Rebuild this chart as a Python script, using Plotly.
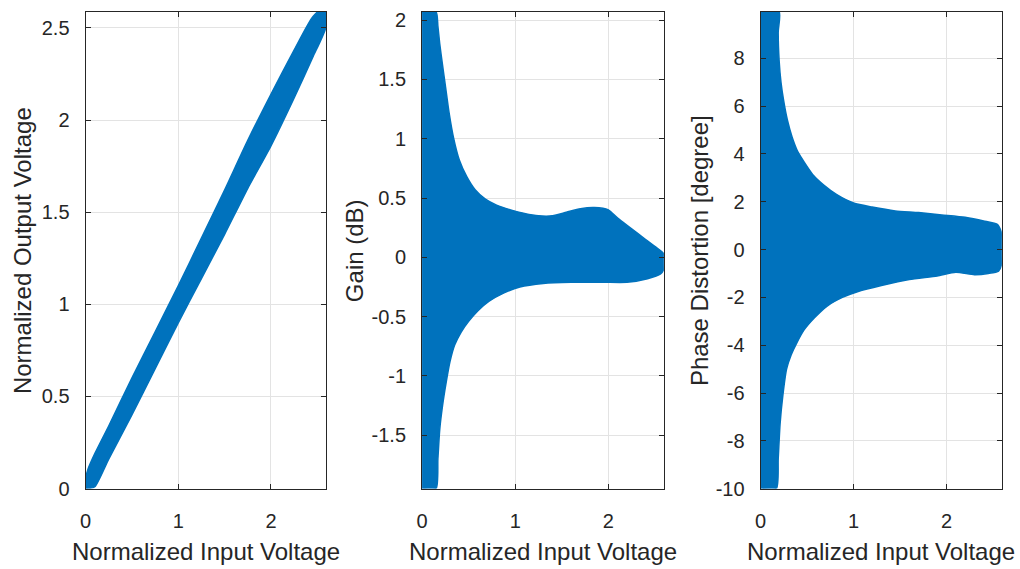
import plotly.graph_objects as go

# ---------------- data ----------------
# Panel 1: Normalized output vs input voltage (band of scatter points)
vin_x = [0.00, 0.03, 0.10, 0.25, 0.50, 0.75, 1.00, 1.25, 1.50, 1.75, 2.00, 2.25, 2.45, 2.59]
vout_upper = [0.06, 0.11, 0.19, 0.34, 0.60, 0.85, 1.10, 1.36, 1.62, 1.89, 2.14, 2.38, 2.56, 2.62]
vout_lower = [0.00, 0.00, 0.01, 0.16, 0.40, 0.65, 0.90, 1.14, 1.38, 1.63, 1.86, 2.12, 2.34, 2.50]

# Panel 2: Gain (dB) scatter cloud envelope
gain_up_x = [0.00, 0.15, 0.17, 0.19, 0.22, 0.25, 0.29, 0.34, 0.40, 0.48, 0.57, 0.68, 0.80, 0.95,
             1.10, 1.25, 1.40, 1.55, 1.70, 1.85, 2.00, 2.10, 2.25, 2.40, 2.52, 2.595]
gain_up_y = [2.07, 2.07, 1.95, 1.80, 1.62, 1.45, 1.22, 1.00, 0.82, 0.68, 0.57, 0.49, 0.44, 0.40,
             0.37, 0.35, 0.35, 0.38, 0.41, 0.42, 0.40, 0.33, 0.24, 0.15, 0.08, 0.03]
gain_lo_x = [0.00, 0.15, 0.17, 0.19, 0.22, 0.26, 0.30, 0.35, 0.42, 0.50, 0.60, 0.72, 0.88, 1.05,
             1.30, 1.60, 1.95, 2.20, 2.42, 2.56, 2.595]
gain_lo_y = [-1.95, -1.95, -1.70, -1.45, -1.25, -1.05, -0.88, -0.74, -0.63, -0.54, -0.45, -0.37, -0.30, -0.25,
             -0.22, -0.21, -0.21, -0.21, -0.18, -0.14, -0.10]

# Panel 3: Phase distortion (degree) scatter cloud envelope
ph_up_x = [0.00, 0.20, 0.19, 0.20, 0.22, 0.25, 0.29, 0.34, 0.40, 0.48, 0.57, 0.68, 0.82, 1.00,
           1.20, 1.45, 1.70, 1.95, 2.20, 2.40, 2.55, 2.595]
ph_up_y = [9.95, 9.95, 9.10, 7.90, 7.00, 6.20, 5.40, 4.70, 4.10, 3.60, 3.10, 2.70, 2.30, 1.95,
           1.78, 1.62, 1.55, 1.45, 1.35, 1.20, 1.05, 0.65]
ph_lo_x = [0.00, 0.17, 0.19, 0.21, 0.24, 0.28, 0.33, 0.39, 0.47, 0.58, 0.72, 0.88, 1.05, 1.30,
           1.60, 1.90, 2.10, 2.30, 2.45, 2.56, 2.595]
ph_lo_y = [-10.0, -10.0, -8.75, -7.30, -6.10, -5.00, -4.40, -3.90, -3.35, -2.85, -2.35, -2.00, -1.75, -1.50,
           -1.25, -1.10, -0.95, -1.05, -1.00, -0.90, -0.57]

# Tick labels
x_ticks = [0, 1, 2]
y1_ticks = [0, 0.5, 1, 1.5, 2, 2.5]
y1_text = ["0", "0.5", "1", "1.5", "2", "2.5"]
y2_ticks = [-1.5, -1, -0.5, 0, 0.5, 1, 1.5, 2]
y2_text = ["-1.5", "-1", "-0.5", "0", "0.5", "1", "1.5", "2"]
y3_ticks = [-10, -8, -6, -4, -2, 0, 2, 4, 6, 8]
y3_text = ["-10", "-8", "-6", "-4", "-2", "0", "2", "4", "6", "8"]

x_title = "Normalized Input Voltage"
y_titles = ["Normalized Output Voltage", "Gain (dB)", "Phase Distortion [degree]"]

# ---------------- figure ----------------
BLUE = "#0072BD"
AX = "#262626"
FONT = "Liberation Sans, Arial, Helvetica, sans-serif"
W, H = 1020, 569

fig = go.Figure()


def band(xu, yu, xl, yl, xa, ya):
    xs = list(xu) + list(reversed(xl))
    ys = list(yu) + list(reversed(yl))
    fig.add_trace(go.Scatter(
        x=xs, y=ys, mode="lines", fill="toself", fillcolor=BLUE,
        line=dict(color=BLUE, width=1.5, shape="spline", smoothing=0.6),
        xaxis=xa, yaxis=ya, showlegend=False, hoverinfo="skip"))


band(vin_x, vout_upper, vin_x, vout_lower, "x", "y")
band(gain_up_x, gain_up_y, gain_lo_x, gain_lo_y, "x2", "y2")
band(ph_up_x, ph_up_y, ph_lo_x, ph_lo_y, "x3", "y3")

x_domains = [[80 / W, 322 / W], [418.5 / W, 661.7 / W], [759 / W, 1001.7 / W]]
y_domain = [1 - 498 / H, 1 - 10 / H]
y_ranges = [[0, 2.588], [-1.95, 2.07], [-10, 9.95]]
y_tv = [y1_ticks, y2_ticks, y3_ticks]
y_tt = [y1_text, y2_text, y3_text]

common = dict(showline=True, linecolor=AX, linewidth=1, mirror="ticks",
              ticks="inside", ticklen=5, tickcolor=AX, tickwidth=1,
              showgrid=True, gridcolor="#e3e3e3", gridwidth=1,
              zeroline=False, layer="above traces",
              tickfont=dict(family=FONT, size=20, color=AX))

for i in range(3):
    sfx = "" if i == 0 else str(i + 1)
    fig.layout["xaxis" + sfx] = dict(
        common, domain=x_domains[i], range=[0, 2.595], anchor="y" + sfx,
        tickmode="array", tickvals=x_ticks, ticktext=[str(t) for t in x_ticks],
        ticklabelstandoff=14)
    fig.layout["yaxis" + sfx] = dict(
        common, domain=y_domain, range=y_ranges[i], anchor="x" + sfx,
        tickmode="array", tickvals=y_tv[i], ticktext=y_tt[i],
        ticklabelstandoff=11)

annotations = []
for i in range(3):
    cx = (x_domains[i][0] + x_domains[i][1]) / 2
    annotations.append(dict(text=x_title, xref="paper", yref="paper",
                            x=cx, y=1 - 562 / H, xanchor="center", yanchor="middle",
                            showarrow=False, font=dict(family=FONT, size=24, color=AX)))
y_label_x = [16, 350, 697]
for i in range(3):
    annotations.append(dict(text=y_titles[i], xref="paper", yref="paper",
                            x=y_label_x[i] / W, y=1 - 254 / H, xanchor="center", yanchor="middle",
                            textangle=-90, showarrow=False,
                            font=dict(family=FONT, size=24, color=AX)))

fig.update_layout(width=W, height=H, margin=dict(l=0, r=0, t=0, b=0),
                  paper_bgcolor="white", plot_bgcolor="white",
                  annotations=annotations, showlegend=False)

fig.write_html("out.html")
